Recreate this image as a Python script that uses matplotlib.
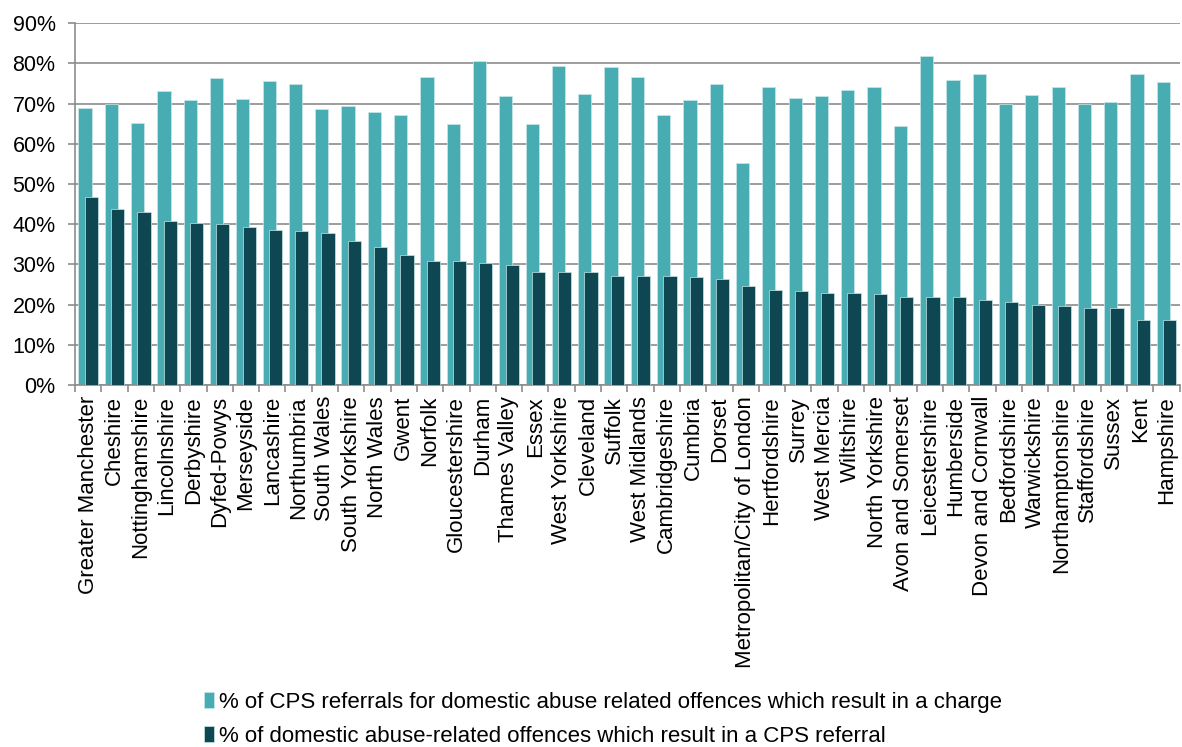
import numpy as np
import matplotlib
matplotlib.use("Agg")
import matplotlib.pyplot as plt
from matplotlib.ticker import PercentFormatter, FixedLocator

# =============================
# Data
# =============================

forces = [
    "Greater Manchester", "Cheshire", "Nottinghamshire", "Lincolnshire",
    "Derbyshire", "Dyfed-Powys", "Merseyside", "Lancashire", "Northumbria",
    "South Wales", "South Yorkshire", "North Wales", "Gwent", "Norfolk",
    "Gloucestershire", "Durham", "Thames Valley", "Essex", "West Yorkshire",
    "Cleveland", "Suffolk", "West Midlands", "Cambridgeshire", "Cumbria",
    "Dorset", "Metropolitan/City of London", "Hertfordshire", "Surrey",
    "West Mercia", "Wiltshire", "North Yorkshire", "Avon and Somerset",
    "Leicestershire", "Humberside", "Devon and Cornwall", "Bedfordshire",
    "Warwickshire", "Northamptonshire", "Staffordshire", "Sussex", "Kent",
    "Hampshire",
]

charge_pct = [
    69.0, 70.0, 65.2, 73.2, 70.8, 76.3, 71.1, 75.6, 74.9, 68.7,
    69.3, 67.9, 67.3, 76.6, 64.9, 80.5, 71.8, 64.9, 79.5, 72.5,
    79.1, 76.6, 67.3, 70.8, 74.9, 55.2, 74.2, 71.4, 71.8, 73.5,
    74.2, 64.5, 81.9, 76.0, 77.4, 70.0, 72.2, 74.2, 70.0, 70.4,
    77.4, 75.3,
]

referral_pct = [
    46.9, 43.8, 43.1, 40.7, 40.3, 40.0, 39.2, 38.6, 38.2, 37.8,
    35.8, 34.4, 32.4, 30.9, 30.9, 30.3, 29.9, 28.1, 28.1, 28.1,
    27.1, 27.1, 27.1, 26.8, 26.5, 24.6, 23.6, 23.3, 23.0, 23.0,
    22.6, 22.0, 22.0, 22.0, 21.2, 20.6, 19.9, 19.6, 19.2, 19.2,
    16.1, 16.1,
]

label_charge = "% of CPS referrals for domestic abuse related offences which result in a charge"
label_referral = "% of domestic abuse-related offences which result in a CPS referral"

# =============================
# Plot
# =============================

plt.rcParams['font.family'] = ['Liberation Sans', 'DejaVu Sans']

light = "#48adb3"
dark = "#0e4651"
grid_col = "#8c8c8c"

fig = plt.figure(figsize=(11.82, 7.47), dpi=100)
ax = fig.add_axes([0.0635, 0.4846, 0.9345, 0.4842])

x = np.arange(len(forces))
w = 0.5

ax.bar(x - 0.12, charge_pct, width=w, color=light, edgecolor="#c8e6e8",
       linewidth=0.5, label=label_charge, zorder=2)
ax.bar(x + 0.12, referral_pct, width=w, color=dark, edgecolor="#c8e6e8",
       linewidth=0.5, label=label_referral, zorder=3)

ax.set_xlim(-0.5, len(forces) - 0.5)
ax.set_ylim(0, 90)
ax.set_yticks(np.arange(0, 91, 10))
ax.yaxis.set_major_formatter(PercentFormatter(decimals=0))
ax.yaxis.grid(True, color=grid_col, linewidth=1.2, zorder=0)
ax.set_axisbelow(True)

ax.set_xticks(x)
ax.set_xticklabels(forces, rotation=90, fontsize=16)
ax.xaxis.set_minor_locator(FixedLocator(np.arange(-0.5, len(forces), 1)))
ax.tick_params(axis="x", which="major", length=0, pad=8)
ax.tick_params(axis="x", which="minor", length=5, color=grid_col, width=1.2)
ax.tick_params(axis="y", length=5, color=grid_col, width=1.2, labelsize=15.5, pad=9)

for side in ["top", "right"]:
    ax.spines[side].set_visible(False)
for side in ["left", "bottom"]:
    ax.spines[side].set_color(grid_col)
    ax.spines[side].set_linewidth(1.2)

fig.legend(loc="upper left", bbox_to_anchor=(0.165, 0.086),
           frameon=False, fontsize=16, handlelength=0.45, handleheight=0.75,
           handletextpad=0.25, labelspacing=0.58, borderaxespad=0,
           bbox_transform=fig.transFigure)

fig.savefig("out.png", dpi=100)
